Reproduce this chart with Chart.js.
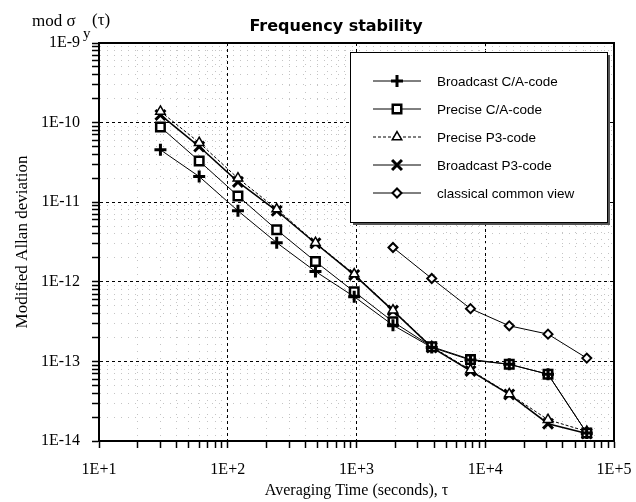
<!DOCTYPE html>
<html>
<head>
<meta charset="utf-8">
<script src="https://cdn.jsdelivr.net/npm/chart.js@4.4.1/dist/chart.umd.min.js"></script>
<style>
  html, body { margin: 0; padding: 0; background: #fff; }
  #wrap { width: 636px; height: 502px; }
</style>
</head>
<body>
<div id="wrap"><canvas id="myChart" width="636" height="502"></canvas></div>
<script>
// averaging times (s)
const tauValues = [30, 60, 120, 240, 480, 960, 1920, 3840, 7680, 15360, 30720, 61440];
const broadcastCA = [4.55e-11, 2.1e-11, 7.8e-12, 3.1e-12, 1.35e-12, 6.5e-13, 2.85e-13, 1.5e-13, 1.04e-13, 9.2e-14, 6.9e-14, 1.26e-14];
const preciseCA = [8.8e-11, 3.3e-11, 1.2e-11, 4.5e-12, 1.8e-12, 7.5e-13, 3.15e-13, 1.53e-13, 1.06e-13, 9.2e-14, 6.9e-14, 1.26e-14];
const preciseP3 = [1.38e-10, 5.6e-11, 2.0e-11, 8.2e-12, 3.1e-12, 1.25e-12, 4.4e-13, 1.53e-13, 7.8e-14, 3.9e-14, 1.85e-14, 1.32e-14];
const broadcastP3 = [1.25e-10, 5.0e-11, 1.8e-11, 7.8e-12, 3.05e-12, 1.22e-12, 4.35e-13, 1.5e-13, 7.6e-14, 3.85e-14, 1.65e-14, 1.24e-14];
const commonViewTau = [1920, 3840, 7680, 15360, 30720, 61440];
const commonView = [2.7e-12, 1.1e-12, 4.6e-13, 2.8e-13, 2.2e-13, 1.1e-13];

const seriesLabels = ["Broadcast C/A-code", "Precise C/A-code", "Precise P3-code", "Broadcast P3-code", "classical common view"];
const xDecades = [1e1, 1e2, 1e3, 1e4, 1e5];
const xTickLabels = ["1E+1", "1E+2", "1E+3", "1E+4", "1E+5"];
const yDecades = [1e-14, 1e-13, 1e-12, 1e-11, 1e-10, 1e-9];
const yTickLabels = ["1E-14", "1E-13", "1E-12", "1E-11", "1E-10", "1E-9"];

const serif = "'Liberation Serif', 'DejaVu Serif', serif";
const sans = "'Liberation Sans', Arial, sans-serif";

function pts(xs, ys) {
  return xs.map((x, i) => ({ x: x, y: ys[i] }));
}

function decadeIndex(decades, v) {
  return decades.findIndex(d => Math.abs(v / d - 1) < 1e-6);
}

// decades plus the 2..9 minor steps
function logTicks(decades) {
  const t = [];
  decades.forEach((d, i) => {
    t.push({ value: d });
    if (i < decades.length - 1) {
      for (let k = 2; k <= 9; k++) t.push({ value: d * k });
    }
  });
  return t;
}

const gridColor = (decades) => (ctx) =>
  ctx.tick && decadeIndex(decades, ctx.tick.value) >= 0 ? '#000' : '#c4c4c4';
const gridDash = (decades) => (ctx) =>
  ctx.tick && decadeIndex(decades, ctx.tick.value) >= 0 ? [3, 3] : [1, 6];

const frame = {
  id: 'frame',
  afterDraw(chart) {
    const { ctx, chartArea: a } = chart;
    ctx.save();
    ctx.strokeStyle = '#000';
    ctx.lineWidth = 2;
    ctx.strokeRect(a.left, a.top, a.right - a.left, a.bottom - a.top);

    // title
    ctx.fillStyle = '#000';
    ctx.font = "bold 16px 'DejaVu Sans', sans-serif";
    ctx.textAlign = 'center';
    ctx.textBaseline = 'middle';
    ctx.fillText('Frequency stability', 336, 27);

    // y label at top-left: mod σy(τ)
    ctx.font = '17px ' + serif;
    ctx.textAlign = 'left';
    ctx.textBaseline = 'alphabetic';
    ctx.fillText('mod \u03c3', 32, 26);
    ctx.font = '15px ' + serif;
    ctx.fillText('y', 83, 38);
    ctx.font = '17px ' + serif;
    ctx.fillText('(\u03c4)', 92, 25);

    // legend
    const L = { x: 350, y: 52, w: 257, h: 170 };
    ctx.fillStyle = '#555';
    ctx.fillRect(L.x + 3, L.y + 3, L.w, L.h);
    ctx.fillStyle = '#fff';
    ctx.fillRect(L.x, L.y, L.w, L.h);
    ctx.strokeStyle = '#000';
    ctx.lineWidth = 1;
    ctx.strokeRect(L.x + 0.5, L.y + 0.5, L.w, L.h);
    chart.data.datasets.forEach((ds, i) => {
      const y = 81 + i * 28;
      ctx.save();
      ctx.strokeStyle = '#000';
      ctx.lineWidth = 1;
      ctx.setLineDash(ds.borderDash || []);
      ctx.beginPath();
      ctx.moveTo(373, y);
      ctx.lineTo(421, y);
      ctx.stroke();
      ctx.setLineDash([]);
      ctx.fillStyle = ds.pointBackgroundColor;
      ctx.strokeStyle = ds.pointBorderColor;
      ctx.lineWidth = ds.pointBorderWidth;
      Chart.helpers.drawPoint(ctx, { pointStyle: ds.pointStyle, radius: ds.pointRadius, borderWidth: ds.pointBorderWidth, rotation: 0 }, 397, y);
      ctx.restore();
      ctx.fillStyle = '#000';
      ctx.font = '13.5px ' + sans;
      ctx.textAlign = 'left';
      ctx.textBaseline = 'middle';
      ctx.fillText(ds.label, 437, y + 1);
    });
    ctx.restore();
  }
};

new Chart('myChart', {
  type: 'line',
  data: {
    datasets: [
      {
        label: seriesLabels[0], data: pts(tauValues, broadcastCA),
        borderColor: '#000', borderWidth: 1,
        pointStyle: 'cross', pointRadius: 6, pointBorderWidth: 3,
        pointBackgroundColor: '#000', pointBorderColor: '#000'
      },
      {
        label: seriesLabels[1], data: pts(tauValues, preciseCA),
        borderColor: '#000', borderWidth: 1,
        pointStyle: 'rect', pointRadius: 6, pointBorderWidth: 2.5,
        pointBackgroundColor: '#fff', pointBorderColor: '#000'
      },
      {
        label: seriesLabels[2], data: pts(tauValues, preciseP3),
        borderColor: '#000', borderWidth: 1, borderDash: [3, 2],
        pointStyle: 'triangle', pointRadius: 5.5, pointBorderWidth: 1.5,
        pointBackgroundColor: '#fff', pointBorderColor: '#000'
      },
      {
        label: seriesLabels[3], data: pts(tauValues, broadcastP3),
        borderColor: '#000', borderWidth: 1.5,
        pointStyle: 'crossRot', pointRadius: 7, pointBorderWidth: 3,
        pointBackgroundColor: '#000', pointBorderColor: '#000'
      },
      {
        label: seriesLabels[4], data: pts(commonViewTau, commonView),
        borderColor: '#000', borderWidth: 1,
        pointStyle: 'rectRot', pointRadius: 4.5, pointBorderWidth: 2,
        pointBackgroundColor: '#fff', pointBorderColor: '#000'
      }
    ]
  },
  options: {
    responsive: false,
    animation: false,
    devicePixelRatio: 1,
    layout: { padding: { left: 0, right: 22, top: 43, bottom: 0 } },
    plugins: {
      legend: { display: false },
      title: { display: false },
      tooltip: { enabled: false }
    },
    scales: {
      x: {
        type: 'logarithmic',
        min: xDecades[0],
        max: xDecades[xDecades.length - 1],
        afterBuildTicks: (s) => { s.ticks = logTicks(xDecades); },
        afterFit: (s) => { s.height = 61; s.paddingRight = 0; s.paddingLeft = 0; },
        ticks: {
          autoSkip: false, maxRotation: 0, color: '#000', padding: 12,
          font: { family: serif, size: 16 },
          callback: (v) => { const i = decadeIndex(xDecades, v); return i >= 0 ? xTickLabels[i] : ''; }
        },
        grid: {
          color: gridColor(xDecades), lineWidth: 1,
          drawTicks: true, tickLength: 7, tickColor: '#000', tickWidth: 1.5
        },
        border: { display: true, color: '#000', width: 2, dash: gridDash(xDecades) },
        title: {
          display: true, text: 'Averaging Time (seconds), \u03c4', color: '#000',
          font: { family: serif, size: 16 }, padding: { top: 0, bottom: 2 }
        }
      },
      y: {
        type: 'logarithmic',
        min: yDecades[0],
        max: yDecades[yDecades.length - 1],
        afterBuildTicks: (s) => { s.ticks = logTicks(yDecades); },
        afterFit: (s) => { s.width = 99; s.paddingTop = 0; s.paddingBottom = 0; },
        ticks: {
          autoSkip: false, color: '#000', padding: 12,
          font: { family: serif, size: 16 },
          callback: (v) => { const i = decadeIndex(yDecades, v); return i >= 0 ? yTickLabels[i] : ''; }
        },
        grid: {
          color: gridColor(yDecades), lineWidth: 1,
          drawTicks: true, tickLength: 7, tickColor: '#000', tickWidth: 1.5
        },
        border: { display: true, color: '#000', width: 2, dash: gridDash(yDecades) },
        title: {
          display: true, text: 'Modified Allan deviation', color: '#000',
          font: { family: serif, size: 17 }, padding: { top: 12, bottom: 0 }
        }
      }
    }
  },
  plugins: [frame]
});
</script>
</body>
</html>
